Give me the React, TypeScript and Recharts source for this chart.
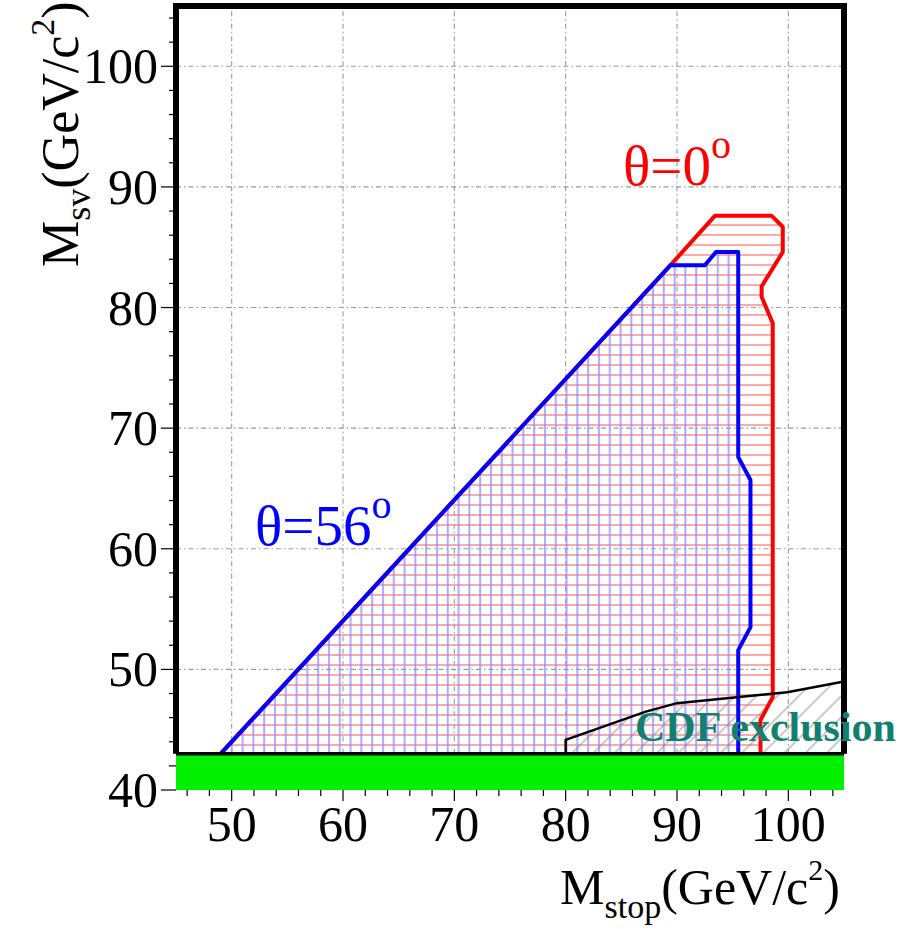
import { ComposedChart, XAxis, YAxis, Scatter } from 'recharts';

// axis ticks (minor every 2, labels on the tens)
const xTicks = [46, 48, 50, 52, 54, 56, 58, 60, 62, 64, 66, 68, 70, 72, 74, 76, 78, 80, 82, 84, 86, 88, 90, 92, 94, 96, 98, 100, 102, 104];
const yTicks = [40, 42, 44, 46, 48, 50, 52, 54, 56, 58, 60, 62, 64, 66, 68, 70, 72, 74, 76, 78, 80, 82, 84, 86, 88, 90, 92, 94, 96, 98, 100, 102, 104];
const xMajor = [50, 60, 70, 80, 90, 100];
const yMajor = [50, 60, 70, 80, 90, 100];

// excluded region, theta = 0 deg
const redRegion = [
  { x: 49.0, y: 43 }, { x: 89.4, y: 83.5 }, { x: 93.4, y: 87.6 }, { x: 98.5, y: 87.6 }, { x: 99.5, y: 86.7 },
  { x: 99.5, y: 84.6 }, { x: 97.6, y: 81.75 }, { x: 97.6, y: 80.9 }, { x: 98.6, y: 78.7 },
  { x: 98.6, y: 47.7 }, { x: 97.5, y: 45.8 }, { x: 97.5, y: 43 },
];

// excluded region, theta = 56 deg
const blueRegion = [
  { x: 49.0, y: 43 }, { x: 89.4, y: 83.5 }, { x: 92.5, y: 83.5 }, { x: 93.5, y: 84.6 },
  { x: 95.5, y: 84.6 }, { x: 95.5, y: 67.6 }, { x: 96.6, y: 65.7 }, { x: 96.6, y: 53.5 },
  { x: 95.5, y: 51.6 }, { x: 95.5, y: 43 },
];

// CDF exclusion
const cdfRegion = [
  { x: 80, y: 43 }, { x: 80, y: 44.15 }, { x: 87.2, y: 46.5 }, { x: 90, y: 47.2 },
  { x: 99.9, y: 48.1 }, { x: 105, y: 49 }, { x: 105, y: 43 },
];

const greenBand = [{ x: 45, y: 40 }, { x: 105, y: 40 }, { x: 105, y: 43 }, { x: 45, y: 43 }];
const floorLine = [{ x: 45, y: 43 }, { x: 105, y: 43 }];
const frameLine = [{ x: 45, y: 43 }, { x: 45, y: 105 }, { x: 105, y: 105 }, { x: 105, y: 43 }];

const FONT = '"Liberation Serif", "Times New Roman", serif';
const noShape = () => <g />;

const XTick = (props: any) => {
  const { x, y, payload } = props;
  const major = payload.value % 10 === 0;
  return (
    <g>
      <line x1={x} x2={x} y1={y} y2={y + (major ? 11 : 6)} stroke="#000" strokeWidth={1.2} />
      {major && (
        <text x={x} y={y + 51} textAnchor="middle" fontSize={50} fontFamily={FONT} fill="#000">
          {payload.value}
        </text>
      )}
    </g>
  );
};

const YTick = (props: any) => {
  const { x, y, payload } = props;
  const major = payload.value % 10 === 0;
  return (
    <g>
      <line x1={x - (major ? 15 : 7)} x2={x} y1={y} y2={y} stroke="#000" strokeWidth={1.2} />
      {major && (
        <text x={x - 18} y={y + 17} textAnchor="end" fontSize={50} fontFamily={FONT} fill="#000">
          {payload.value}
        </text>
      )}
    </g>
  );
};

const gridStyle = { stroke: '#9a9a9a', strokeWidth: 1.1, strokeDasharray: '5 3 1.5 3', fill: 'none' };

export default function App() {
  return (
    <div style={{ position: 'absolute', left: 0, top: 0, width: 919, height: 929, background: '#fff' }}>
      <svg width={0} height={0} style={{ position: 'absolute' }}>
        <defs>
          <pattern id="redHatch" patternUnits="userSpaceOnUse" width={20} height={10}>
            <line x1={0} y1={5} x2={20} y2={5} stroke="#ff8c8c" strokeWidth={2} strokeOpacity={0.75} />
          </pattern>
          <pattern id="blueHatch" patternUnits="userSpaceOnUse" width={10.8} height={20}>
            <line x1={5} y1={0} x2={5} y2={20} stroke="#8c8cff" strokeWidth={2} strokeOpacity={0.75} />
          </pattern>
          <pattern id="cdfHatch" patternUnits="userSpaceOnUse" width={15} height={15} patternTransform="rotate(45)">
            <line x1={7} y1={0} x2={7} y2={15} stroke="#888" strokeWidth={0.9} />
          </pattern>
        </defs>
      </svg>

      <ComposedChart width={919} height={929} margin={{ top: 6, right: 75, bottom: 0, left: 0 }}>
        <XAxis
          type="number"
          dataKey="x"
          domain={[45, 105]}
          ticks={xTicks}
          interval={0}
          axisLine={false}
          tickLine={false}
          tickSize={0}
          tickMargin={0}
          tick={<XTick />}
          height={139}
        />
        <YAxis
          type="number"
          dataKey="y"
          domain={[40, 105]}
          ticks={yTicks}
          interval={0}
          axisLine={false}
          tickLine={false}
          tickSize={0}
          tickMargin={0}
          tick={<YTick />}
          width={176}
        />

        {xMajor.map((v) => (
          <Scatter key={'gx' + v} data={[{ x: v, y: 43 }, { x: v, y: 105 }]} line={gridStyle} shape={noShape} isAnimationActive={false} />
        ))}
        {yMajor.map((v) => (
          <Scatter key={'gy' + v} data={[{ x: 45, y: v }, { x: 105, y: v }]} line={gridStyle} shape={noShape} isAnimationActive={false} />
        ))}

        <Scatter data={redRegion} line={{ stroke: 'none', fill: 'url(#redHatch)' }} shape={noShape} isAnimationActive={false} />
        <Scatter data={blueRegion} line={{ stroke: 'none', fill: 'url(#blueHatch)' }} shape={noShape} isAnimationActive={false} />
        <Scatter data={cdfRegion} line={{ stroke: 'none', fill: 'url(#cdfHatch)' }} shape={noShape} isAnimationActive={false} />

        <Scatter data={redRegion} line={{ stroke: '#ff0000', strokeWidth: 4, fill: 'none', strokeLinejoin: 'round' }} shape={noShape} isAnimationActive={false} />
        <Scatter data={blueRegion} line={{ stroke: '#0000ff', strokeWidth: 4, fill: 'none', strokeLinejoin: 'round' }} shape={noShape} isAnimationActive={false} />
        <Scatter data={cdfRegion} line={{ stroke: '#000', strokeWidth: 2.5, fill: 'none' }} shape={noShape} isAnimationActive={false} />

        <Scatter data={greenBand} line={{ stroke: 'none', fill: '#00f000' }} shape={noShape} isAnimationActive={false} />
        <Scatter data={floorLine} line={{ stroke: '#000', strokeWidth: 3.5, fill: 'none' }} shape={noShape} isAnimationActive={false} />
        <Scatter data={frameLine} line={{ stroke: '#000', strokeWidth: 6, fill: 'none' }} shape={noShape} isAnimationActive={false} />
      </ComposedChart>

      <svg width={919} height={929} style={{ position: 'absolute', left: 0, top: 0, pointerEvents: 'none' }}>
        <text transform="translate(78,267) rotate(-90)" fontSize={52} fontFamily={FONT} fill="#000">
          M<tspan fontSize={36} dy={12}>sv</tspan>
          <tspan dy={-12}>(GeV/c</tspan>
          <tspan fontSize={34} dy={-24}>2</tspan>
          <tspan dy={24}>)</tspan>
        </text>
        <text x={560} y={904} fontSize={50} fontFamily={FONT} fill="#000">
          M<tspan fontSize={34} dy={14}>stop</tspan>
          <tspan dy={-14}>(GeV/c</tspan>
          <tspan fontSize={30} dy={-24}>2</tspan>
          <tspan dy={24}>)</tspan>
        </text>
        <text x={623} y={185} fontSize={57} fontFamily={FONT} fill="#ff0000">
          θ=0<tspan fontSize={40} dy={-27}>o</tspan>
        </text>
        <text x={255} y={545} fontSize={57} fontFamily={FONT} fill="#0000ff">
          θ=56<tspan fontSize={40} dy={-27}>o</tspan>
        </text>
        <text x={635} y={741} fontSize={42} fontWeight="bold" fontFamily={FONT} fill="#11806e">
          CDF exclusion
        </text>
      </svg>
    </div>
  );
}
